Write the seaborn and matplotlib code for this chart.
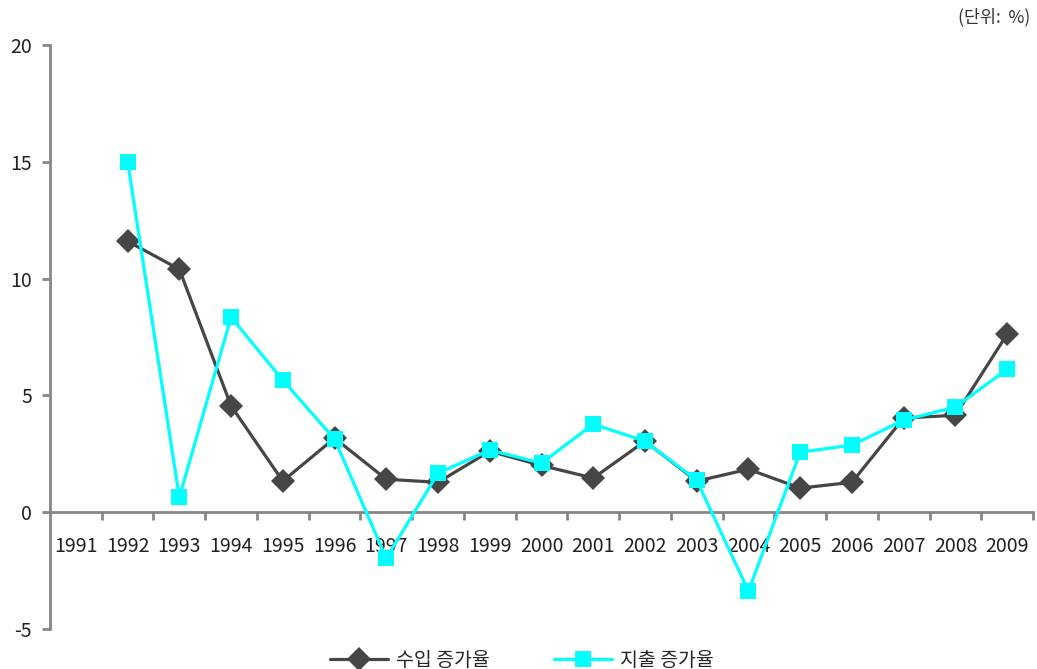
import numpy as np
import pandas as pd
import matplotlib
matplotlib.use('Agg')
import matplotlib.pyplot as plt
import seaborn as sns

years = [str(y) for y in range(1991, 2010)]
income_growth = [np.nan, 11.6, 10.4, 4.55, 1.33, 3.17, 1.41, 1.28, 2.61, 2.0, 1.46,
                 3.04, 1.33, 1.84, 1.03, 1.28, 4.03, 4.15, 7.62]
spend_growth = [np.nan, 15.0, 0.64, 8.35, 5.65, 3.13, -1.97, 1.67, 2.66, 2.1, 3.77,
                3.04, 1.37, -3.38, 2.57, 2.87, 3.94, 4.5, 6.12]
series_names = ['수입 증가율', '지출 증가율']
y_ticks = [-5, 0, 5, 10, 15, 20]

sns.set_theme(style='white')
plt.rcParams['font.family'] = ['Noto Sans CJK KR', 'DejaVu Sans']

df = pd.DataFrame({'pos': np.arange(len(years)),
                   series_names[0]: income_growth,
                   series_names[1]: spend_growth})

fig = plt.figure(figsize=(10.37, 6.69), dpi=100)
ax = fig.add_axes([50 / 1037, 1 - 629 / 669, 983 / 1037, 584 / 669])

sns.lineplot(data=df, x='pos', y=series_names[0], ax=ax, color='#464646',
             marker='D', markersize=12, markeredgewidth=0, linewidth=2.3,
             label=series_names[0], zorder=4)
sns.lineplot(data=df, x='pos', y=series_names[1], ax=ax, color='#00FFFF',
             marker='s', markersize=12, markeredgewidth=0, linewidth=2.3,
             label=series_names[1], zorder=5)

ax.set_xlim(-0.5, len(years) - 0.5)
ax.set_ylim(-5, 20)
ax.set_xlabel('')
ax.set_ylabel('')

spine_c = '#868686'
for s in ['top', 'right']:
    ax.spines[s].set_visible(False)
ax.spines['left'].set_color(spine_c)
ax.spines['left'].set_linewidth(2)
ax.spines['bottom'].set_color(spine_c)
ax.spines['bottom'].set_linewidth(2)
ax.spines['bottom'].set_position(('data', 0))

ax.set_yticks(y_ticks)
ax.set_yticklabels([str(t) for t in y_ticks])
ax.tick_params(axis='y', which='major', direction='out', length=6, width=2,
               color=spine_c, pad=7, labelsize=14, labelcolor='#222222', left=True)

ax.set_xticks(np.arange(len(years)))
ax.set_xticklabels(years)
ax.set_xticks(np.arange(len(years)) + 0.5, minor=True)
ax.tick_params(axis='x', which='major', length=0, pad=17, labelsize=14,
               labelcolor='#222222', bottom=True)
ax.tick_params(axis='x', which='minor', direction='out', length=6, width=2,
               color=spine_c, bottom=True)
ax.grid(False)

ax.legend_.remove()
handles, labels = ax.get_legend_handles_labels()
fig.legend(handles, labels, loc='center', bbox_to_anchor=(0.503, 1 - 660 / 669),
           ncol=2, frameon=False, fontsize=14, handlelength=3.0, columnspacing=3.3,
           handletextpad=0.4)

fig.text(1030 / 1037, 1 - 17 / 669, '(단위:  %)', ha='right', va='center',
         fontsize=12.5, color='#333333')

fig.savefig('out.png', dpi=100)
